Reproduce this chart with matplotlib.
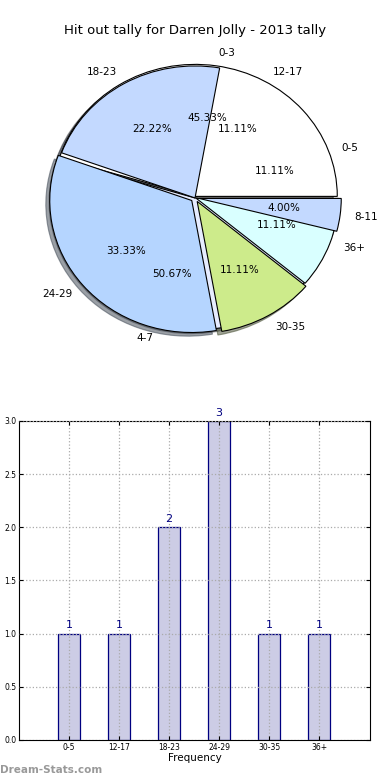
import matplotlib
matplotlib.use("Agg")
import matplotlib.pyplot as plt

# ---- data ----
title = "Hit out tally for Darren Jolly - 2013 tally"
bins = ["0-5", "12-17", "18-23", "24-29", "30-35", "36+"]
counts = [1, 1, 2, 3, 1, 1]
old_bins = ["0-3", "4-7", "8-11"]
old_share = [45.33, 50.67, 4.00]

pie_colors = ["white", "white", "#C3D9FF", "#B5D5FF", "#CDEB8B", "#D9FFFF"]
old_colors = ["white", "#E6ECFF", "#C3D9FF"]

fig = plt.figure(figsize=(3.9, 7.8), dpi=100)

# ---- pie ----
ax1 = fig.add_axes([0.0449, 0.5262, 0.9103, 0.4231])
tp = dict(fontsize=7.5)
w2, t2, a2 = ax1.pie(old_share, labels=old_bins, colors=old_colors,
                     explode=[0.012, 0.0, 0.03], autopct="%1.2f%%",
                     shadow=True, startangle=0, labeldistance=1.1,
                     pctdistance=0.6, textprops=tp,
                     wedgeprops=dict(edgecolor="black", linewidth=0.8))
w1, t1, a1 = ax1.pie(counts, labels=bins, colors=pie_colors,
                     explode=[0, 0, 0, 0.03, 0.03, 0.01], autopct="%1.2f%%",
                     shadow=True, startangle=0, labeldistance=1.1,
                     pctdistance=0.6, textprops=tp,
                     wedgeprops=dict(edgecolor="black", linewidth=0.8))
w1[0].set_visible(False)
w1[1].set_visible(False)
w2[2].set_zorder(1.5)
ax1.set_aspect("auto")
ax1.set_xlim(-1.25, 1.25)
ax1.set_ylim(-1.3, 1.2)
ax1.axis("off")
ax1.set_title(title, fontsize=9.5, pad=4)

# ---- bars ----
ax2 = fig.add_axes([0.049, 0.0513, 0.9, 0.409])
x = list(range(len(bins)))
bars = ax2.bar(x, counts, width=0.45, color="#CCCCE5", edgecolor="navy",
               linewidth=0.9, zorder=1)
for xi, c in zip(x, counts):
    ax2.text(xi, c + 0.03, str(c), ha="center", va="bottom", color="navy",
             fontsize=8)
ax2.set_xlim(-1, 6.02)
ax2.set_ylim(0, 3)
ax2.set_xticks(x)
ax2.set_xticklabels(bins, fontsize=5.5)
ax2.set_yticks([0, 0.5, 1.0, 1.5, 2.0, 2.5, 3.0])
ax2.set_yticklabels(["0.0", "0.5", "1.0", "1.5", "2.0", "2.5", "3.0"], fontsize=5.5)
ax2.tick_params(direction="in", top=True, right=True, length=3, pad=2)
ax2.grid(True, linestyle=":", color="#aaaaaa", linewidth=0.9, zorder=3)
ax2.set_axisbelow(False)
ax2.set_xlabel("Frequency", fontsize=7.5, labelpad=1)

fig.text(0.0, 0.0128, "Dream-Stats.com", color="#999999", fontsize=7.5,
         fontweight="bold", va="center", ha="left")

fig.savefig("out.png", dpi=100)
